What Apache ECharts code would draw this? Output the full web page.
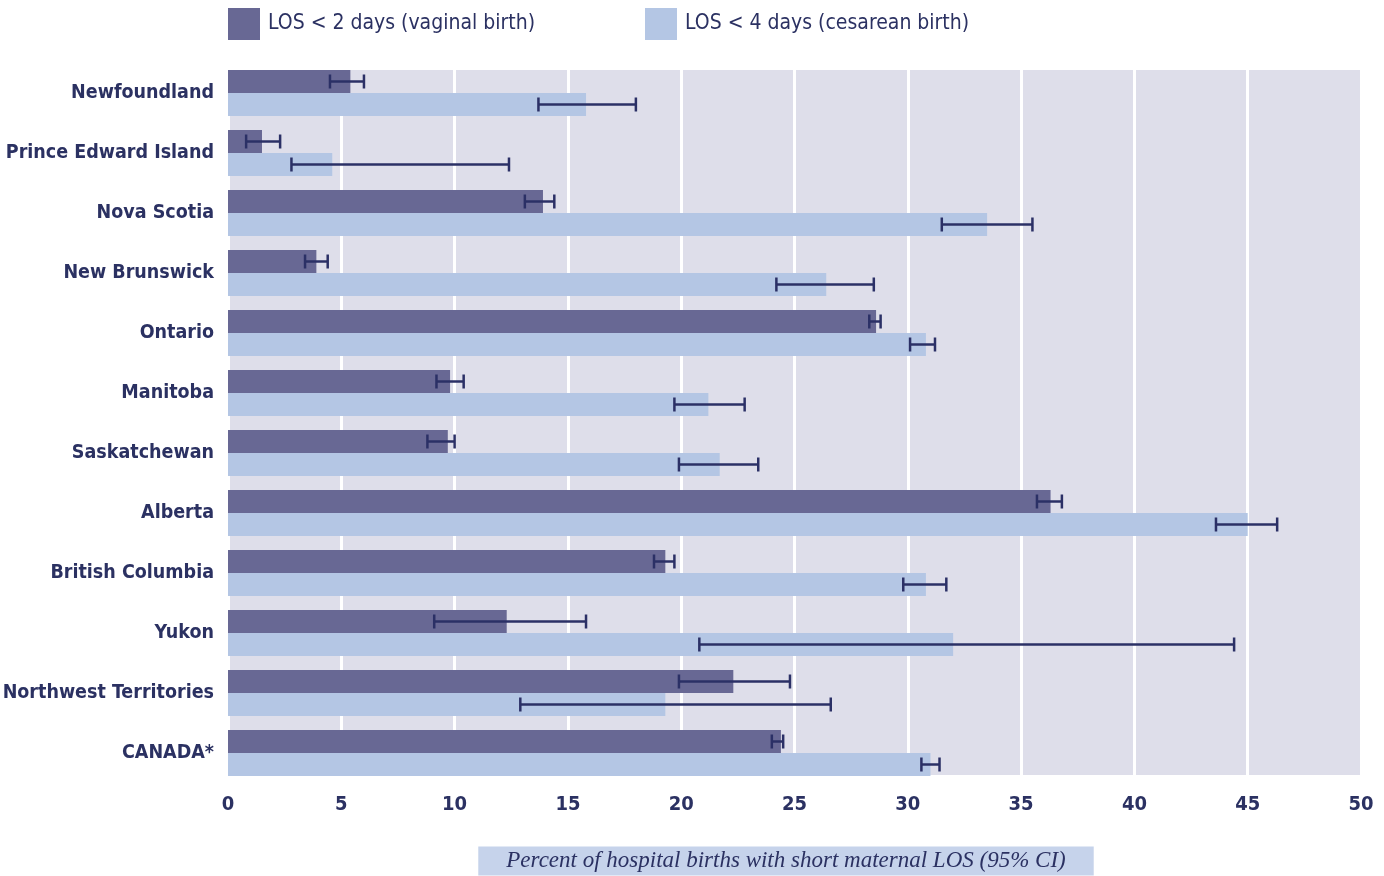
<!DOCTYPE html>
<html>
<head>
<meta charset="utf-8">
<script src="https://cdn.jsdelivr.net/npm/echarts@6/dist/echarts.min.js"></script>
<style>
html,body{margin:0;padding:0;background:#fff;}
#chart{width:1384px;height:876px;}
</style>
</head>
<body>
<div id="chart"></div>
<script>
// ---- data ----
const categories = ['Newfoundland','Prince Edward Island','Nova Scotia','New Brunswick','Ontario','Manitoba','Saskatchewan','Alberta','British Columbia','Yukon','Northwest Territories','CANADA*'];
const seriesNames = ['LOS < 2 days (vaginal birth)','LOS < 4 days (cesarean birth)'];
const vaginal      = [5.4, 1.5, 13.9, 3.9, 28.6, 9.8, 9.7, 36.3, 19.3, 12.3, 22.3, 24.4];
const vaginalLow   = [4.5, 0.8, 13.1, 3.4, 28.3, 9.2, 8.8, 35.7, 18.8,  9.1, 19.9, 24.0];
const vaginalHigh  = [6.0, 2.3, 14.4, 4.4, 28.8, 10.4, 10.0, 36.8, 19.7, 15.8, 24.8, 24.5];
const cesarean     = [15.8, 4.6, 33.5, 26.4, 30.8, 21.2, 21.7, 45.0, 30.8, 32.0, 19.3, 31.0];
const cesareanLow  = [13.7, 2.8, 31.5, 24.2, 30.1, 19.7, 19.9, 43.6, 29.8, 20.8, 12.9, 30.6];
const cesareanHigh = [18.0, 12.4, 35.5, 28.5, 31.2, 22.8, 23.4, 46.3, 31.7, 44.4, 26.6, 31.4];
const xTicks = [0, 5, 10, 15, 20, 25, 30, 35, 40, 45, 50];
const axisTitle = 'Percent of hospital births with short maternal LOS (95% CI)';

// ---- styles ----
const DARK = '#686894', LIGHT = '#b4c6e4', BG = '#dedeea', ERR = '#2b3066', TXT = '#2b3162';
const BAR_W = 23, CAP = 7;
const SANS = '"DejaVu Sans Condensed", "Liberation Sans Narrow", "Roboto", sans-serif';
const SERIF = '"Liberation Serif", "DejaVu Serif", serif';

function errData(lo, hi) { return categories.map((c, i) => [i, lo[i], hi[i]]); }
function errRender(sign) {
  return function (params, api) {
    const cat = api.value(0);
    const a = api.coord([api.value(1), cat]);
    const b = api.coord([api.value(2), cat]);
    const y = a[1] + sign * BAR_W / 2;
    const st = { stroke: ERR, lineWidth: 2.5 };
    return { type: 'group', children: [
      { type: 'line', shape: { x1: a[0], y1: y, x2: b[0], y2: y }, style: st },
      { type: 'line', shape: { x1: a[0], y1: y - CAP, x2: a[0], y2: y + CAP }, style: st },
      { type: 'line', shape: { x1: b[0], y1: y - CAP, x2: b[0], y2: y + CAP }, style: st }
    ]};
  };
}

const chart = echarts.init(document.getElementById('chart'), null, { renderer: 'canvas' });
chart.setOption({
  animation: false,
  backgroundColor: '#fff',
  legend: [
    { data: [seriesNames[0]], left: 228, top: 8, padding: 0, itemWidth: 32, itemHeight: 32, icon: 'rect',
      textStyle: { fontFamily: SANS, fontSize: 21, color: TXT, padding: [0,0,0,3] } },
    { data: [seriesNames[1]], left: 645, top: 8, padding: 0, itemWidth: 32, itemHeight: 32, icon: 'rect',
      textStyle: { fontFamily: SANS, fontSize: 21, color: TXT, padding: [0,0,0,3] } }
  ],
  grid: { left: 228, right: 23, top: 63, height: 720, containLabel: false, outerBoundsMode: 'none' },
  graphic: [
    { type: 'rect', left: 228, top: 70, z: -10, silent: true,
      shape: { width: 1133, height: 705 }, style: { fill: BG } },
    { type: 'text', x: 786, y: 861, z: 10, silent: true,
      style: { text: axisTitle, fontFamily: SERIF, fontStyle: 'italic', fontSize: 23,
        fill: TXT, align: 'center', verticalAlign: 'middle',
        backgroundColor: '#c6d3eb', padding: [3, 28, 3, 28] } }
  ],
  xAxis: {
    type: 'value', min: xTicks[0], max: xTicks[xTicks.length - 1], interval: xTicks[1] - xTicks[0],
    axisLine: { show: false }, axisTick: { show: false },
    splitLine: { show: true, lineStyle: { color: '#ffffff', width: 3 } },
    axisLabel: { fontFamily: SANS, fontWeight: 'bold', fontSize: 20, color: TXT, margin: 12 }
  },
  yAxis: {
    type: 'category', data: categories, inverse: true,
    axisLine: { show: false }, axisTick: { show: false }, splitLine: { show: false },
    axisLabel: { fontFamily: SANS, fontWeight: 'bold', fontSize: 19.5, color: TXT, margin: 14 }
  },
  series: [
    { name: seriesNames[0], type: 'bar', data: vaginal, barWidth: BAR_W, barGap: '0%',
      itemStyle: { color: DARK }, z: 2 },
    { name: seriesNames[1], type: 'bar', data: cesarean, barWidth: BAR_W, barGap: '0%',
      itemStyle: { color: LIGHT }, z: 2 },
    { type: 'custom', data: errData(vaginalLow, vaginalHigh), renderItem: errRender(-1),
      encode: { x: [1, 2], y: 0 }, z: 5, silent: true },
    { type: 'custom', data: errData(cesareanLow, cesareanHigh), renderItem: errRender(1),
      encode: { x: [1, 2], y: 0 }, z: 5, silent: true }
  ]
});
</script>
</body>
</html>
